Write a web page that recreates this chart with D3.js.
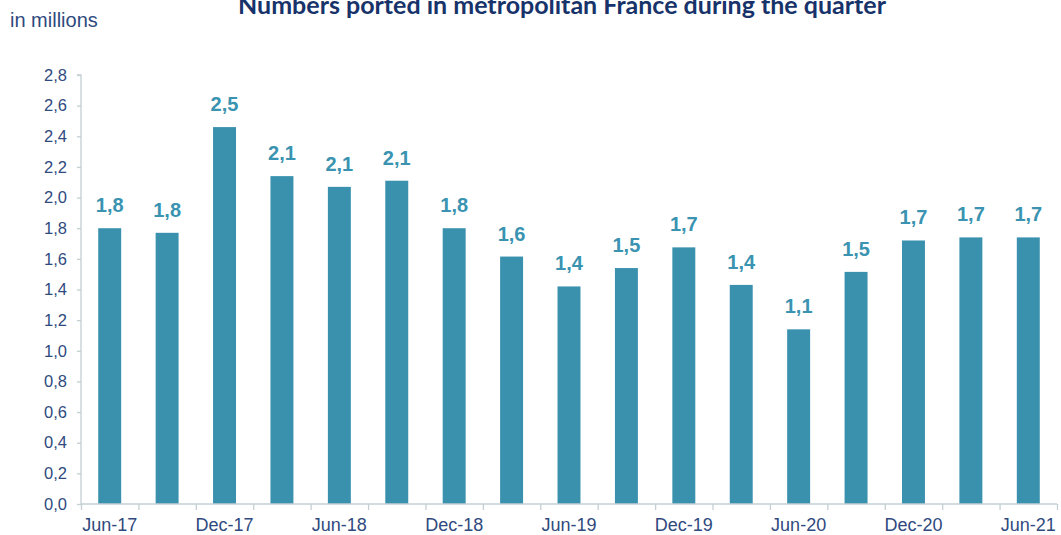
<!DOCTYPE html>
<html>
<head>
<meta charset="utf-8">
<script src="https://cdn.jsdelivr.net/npm/d3@7"></script>
<style>
  body { margin: 0; background: #fff; }
</style>
</head>
<body>
<div id="chart"></div>
<script>
var quarters = ['Jun-17', 'Sep-17', 'Dec-17', 'Mar-18', 'Jun-18', 'Sep-18', 'Dec-18', 'Mar-19', 'Jun-19',
	'Sep-19', 'Dec-19', 'Mar-20', 'Jun-20', 'Sep-20', 'Dec-20', 'Mar-21', 'Jun-21'];
var ported = [1.80, 1.77, 2.46, 2.14, 2.07, 2.11, 1.80, 1.615, 1.42, 1.54, 1.675, 1.43, 1.14, 1.515, 1.72, 1.74, 1.74];
var shown_ticks = ['Jun-17', 'Dec-17', 'Jun-18', 'Dec-18', 'Jun-19', 'Dec-19', 'Jun-20', 'Dec-20', 'Jun-21'];
var y_ticks = [0, 0.2, 0.4, 0.6, 0.8, 1.0, 1.2, 1.4, 1.6, 1.8, 2.0, 2.2, 2.4, 2.6, 2.8];

var width = 1061;
var height = 535;
var margin = { top: 75, right: 4, bottom: 31, left: 81 };
var font = '"Liberation Sans", Arial, sans-serif';

var comma = function (v) { return d3.format('.1f')(v).replace('.', ','); };

var svg = d3.select('#chart')
	.append('svg')
	.attr('width', width)
	.attr('height', height);

var x_scale = d3.scaleBand()
	.domain(quarters)
	.range([margin.left, width - margin.right])
	.paddingInner(0.6)
	.paddingOuter(0.3);

var y_scale = d3.scaleLinear()
	.domain([0, 2.8])
	.range([height - margin.bottom, margin.top]);

// title (clipped at top like the original)
svg.append('text')
	.attr('x', 562)
	.attr('y', 14)
	.attr('text-anchor', 'middle')
	.attr('font-family', 'Lato, "Open Sans", sans-serif')
	.attr('font-weight', 'bold')
	.attr('font-size', 25)
	.attr('fill', '#17336a')
	.text('Numbers ported in metropolitan France during the quarter');

svg.append('text')
	.attr('x', 10)
	.attr('y', 27)
	.attr('font-family', font)
	.attr('font-size', 20)
	.attr('fill', '#2f4a7e')
	.text('in millions');

// bars
svg.selectAll('rect.bar')
	.data(ported)
	.enter()
	.append('rect')
	.attr('class', 'bar')
	.attr('x', function (d, i) { return x_scale(quarters[i]); })
	.attr('y', function (d) { return y_scale(d); })
	.attr('width', x_scale.bandwidth())
	.attr('height', function (d) { return y_scale(0) - y_scale(d); })
	.attr('fill', '#3a91ae');

// value labels
svg.selectAll('text.val')
	.data(ported)
	.enter()
	.append('text')
	.attr('class', 'val')
	.attr('x', function (d, i) { return x_scale(quarters[i]) + x_scale.bandwidth() / 2; })
	.attr('y', function (d) { return y_scale(d) - 16; })
	.attr('text-anchor', 'middle')
	.attr('font-family', font)
	.attr('font-weight', 'bold')
	.attr('font-size', 20)
	.attr('fill', '#3a93b0')
	.text(function (d) { return comma(d); });

// y axis
var y_axis = d3.axisLeft(y_scale)
	.tickValues(y_ticks)
	.tickSize(4)
	.tickPadding(10)
	.tickFormat(comma);

var gy = svg.append('g')
	.attr('transform', 'translate(' + margin.left + ',0)')
	.call(y_axis);

// x axis: ticks between categories, labels on every other bar
var x_lin = d3.scaleLinear()
	.domain([0, quarters.length])
	.range([margin.left, width - margin.right]);
var gx = svg.append('g')
	.attr('transform', 'translate(0,' + y_scale(0) + ')')
	.call(d3.axisBottom(x_lin).tickValues(d3.range(quarters.length + 1)).tickSize(6).tickFormat(''));

svg.append('g')
	.selectAll('text')
	.data(shown_ticks)
	.enter()
	.append('text')
	.attr('x', function (d) { return x_scale(d) + x_scale.bandwidth() / 2; })
	.attr('y', y_scale(0) + 27)
	.attr('text-anchor', 'middle')
	.attr('font-family', font)
	.attr('font-size', 18)
	.attr('fill', '#2f4a7e')
	.text(function (d) { return d; });

[gx, gy].forEach(function (g) {
	g.selectAll('path, line').attr('stroke', '#c3cfd3').attr('stroke-width', 1.3);
	g.selectAll('text')
		.attr('font-family', font)
		.attr('font-size', 16.5)
		.attr('fill', '#2f4a7e');
});
gy.select('.domain').attr('d', 'M-4,' + y_scale(2.8) + 'H0V' + y_scale(0));
gx.select('.domain').attr('d', 'M' + margin.left + ',0H' + (width - margin.right));
</script>
</body>
</html>
